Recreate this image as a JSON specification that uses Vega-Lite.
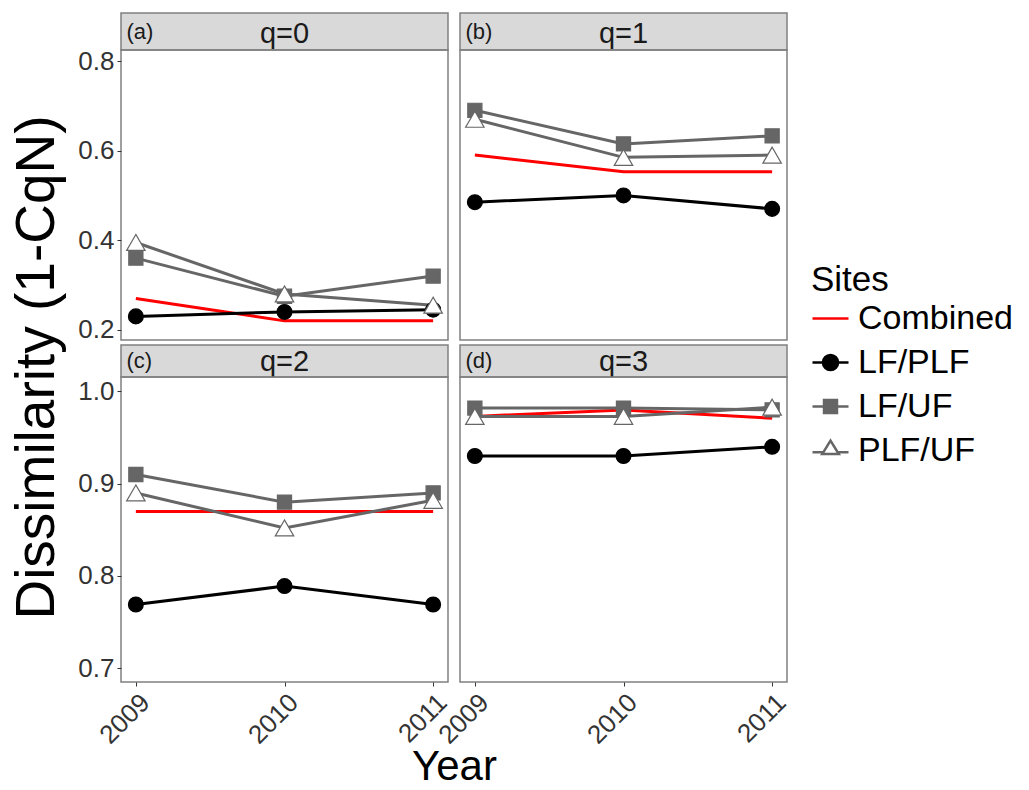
{
  "$schema": "https://vega.github.io/schema/vega-lite/v6.json",
  "padding": {"left": 9, "top": 12, "right": 5, "bottom": 5},
  "config": {
    "font": "Liberation Sans",
    "view": {"stroke": null},
    "axis": {"grid": false, "domain": false, "tickColor": "#333333", "tickSize": 4, "labelColor": "#333333", "labelFontSize": 26, "labelPadding": 3, "titleColor": "#000000", "titleFontWeight": "normal"}
  },
  "datasets": {
    "strips": [
      {"panel": "a", "q": "q=0", "tag": "(a)"},
      {"panel": "b", "q": "q=1", "tag": "(b)"},
      {"panel": "c", "q": "q=2", "tag": "(c)"},
      {"panel": "d", "q": "q=3", "tag": "(d)"}
    ],
    "d": [
      {"panel": "a", "site": "Combined", "year": 2009, "value": 0.27},
      {"panel": "a", "site": "Combined", "year": 2010, "value": 0.22},
      {"panel": "a", "site": "Combined", "year": 2011, "value": 0.22},
      {"panel": "a", "site": "LF/PLF", "year": 2009, "value": 0.23},
      {"panel": "a", "site": "LF/PLF", "year": 2010, "value": 0.24},
      {"panel": "a", "site": "LF/PLF", "year": 2011, "value": 0.245},
      {"panel": "a", "site": "LF/UF", "year": 2009, "value": 0.36},
      {"panel": "a", "site": "LF/UF", "year": 2010, "value": 0.275},
      {"panel": "a", "site": "LF/UF", "year": 2011, "value": 0.32},
      {"panel": "a", "site": "PLF/UF", "year": 2009, "value": 0.395},
      {"panel": "a", "site": "PLF/UF", "year": 2010, "value": 0.28},
      {"panel": "a", "site": "PLF/UF", "year": 2011, "value": 0.255},
      {"panel": "b", "site": "Combined", "year": 2009, "value": 0.59},
      {"panel": "b", "site": "Combined", "year": 2010, "value": 0.553},
      {"panel": "b", "site": "Combined", "year": 2011, "value": 0.553},
      {"panel": "b", "site": "LF/PLF", "year": 2009, "value": 0.485},
      {"panel": "b", "site": "LF/PLF", "year": 2010, "value": 0.5},
      {"panel": "b", "site": "LF/PLF", "year": 2011, "value": 0.47},
      {"panel": "b", "site": "LF/UF", "year": 2009, "value": 0.69},
      {"panel": "b", "site": "LF/UF", "year": 2010, "value": 0.615},
      {"panel": "b", "site": "LF/UF", "year": 2011, "value": 0.633},
      {"panel": "b", "site": "PLF/UF", "year": 2009, "value": 0.67},
      {"panel": "b", "site": "PLF/UF", "year": 2010, "value": 0.585},
      {"panel": "b", "site": "PLF/UF", "year": 2011, "value": 0.59},
      {"panel": "c", "site": "Combined", "year": 2009, "value": 0.87},
      {"panel": "c", "site": "Combined", "year": 2010, "value": 0.87},
      {"panel": "c", "site": "Combined", "year": 2011, "value": 0.87},
      {"panel": "c", "site": "LF/PLF", "year": 2009, "value": 0.769},
      {"panel": "c", "site": "LF/PLF", "year": 2010, "value": 0.789},
      {"panel": "c", "site": "LF/PLF", "year": 2011, "value": 0.769},
      {"panel": "c", "site": "LF/UF", "year": 2009, "value": 0.91},
      {"panel": "c", "site": "LF/UF", "year": 2010, "value": 0.88},
      {"panel": "c", "site": "LF/UF", "year": 2011, "value": 0.89},
      {"panel": "c", "site": "PLF/UF", "year": 2009, "value": 0.89},
      {"panel": "c", "site": "PLF/UF", "year": 2010, "value": 0.852},
      {"panel": "c", "site": "PLF/UF", "year": 2011, "value": 0.882},
      {"panel": "d", "site": "Combined", "year": 2009, "value": 0.973},
      {"panel": "d", "site": "Combined", "year": 2010, "value": 0.98},
      {"panel": "d", "site": "Combined", "year": 2011, "value": 0.971},
      {"panel": "d", "site": "LF/PLF", "year": 2009, "value": 0.93},
      {"panel": "d", "site": "LF/PLF", "year": 2010, "value": 0.93},
      {"panel": "d", "site": "LF/PLF", "year": 2011, "value": 0.94},
      {"panel": "d", "site": "LF/UF", "year": 2009, "value": 0.982},
      {"panel": "d", "site": "LF/UF", "year": 2010, "value": 0.982},
      {"panel": "d", "site": "LF/UF", "year": 2011, "value": 0.98},
      {"panel": "d", "site": "PLF/UF", "year": 2009, "value": 0.973},
      {"panel": "d", "site": "PLF/UF", "year": 2010, "value": 0.973},
      {"panel": "d", "site": "PLF/UF", "year": 2011, "value": 0.983}
    ]
  },
  "columns": 2,
  "bounds": "flush",
  "spacing": {"row": 0, "column": 12},
  "concat": [
    {
      "width": 327, "height": 37,
      "data": {"name": "strips"},
      "transform": [{"filter": "datum.panel == 'a'"}],
      "view": {"fill": "#d9d9d9", "stroke": "#808080", "strokeWidth": 1.5},
      "layer": [
        {"mark": {"type": "text", "fontSize": 29, "color": "#1a1a1a", "dy": 2}, "encoding": {"text": {"field": "q", "type": "nominal"}}},
        {"mark": {"type": "text", "fontSize": 22, "align": "left", "dx": -158, "color": "#1a1a1a"}, "encoding": {"text": {"field": "tag", "type": "nominal"}}}
      ]
    },
    {
      "width": 327, "height": 37,
      "data": {"name": "strips"},
      "transform": [{"filter": "datum.panel == 'b'"}],
      "view": {"fill": "#d9d9d9", "stroke": "#808080", "strokeWidth": 1.5},
      "layer": [
        {"mark": {"type": "text", "fontSize": 29, "color": "#1a1a1a", "dy": 2}, "encoding": {"text": {"field": "q", "type": "nominal"}}},
        {"mark": {"type": "text", "fontSize": 22, "align": "left", "dx": -158, "color": "#1a1a1a"}, "encoding": {"text": {"field": "tag", "type": "nominal"}}}
      ]
    },
    {
      "width": 327, "height": 290,
      "data": {"name": "d"},
      "transform": [{"filter": "datum.panel == 'a'"}],
      "view": {"stroke": "#808080", "strokeWidth": 1.5},
      "encoding": {
        "x": {"field": "year", "type": "quantitative", "scale": {"domain": [2008.9, 2011.1], "nice": false, "zero": false}, "axis": null},
        "y": {"field": "value", "type": "quantitative", "scale": {"domain": [0.1773, 0.8246], "nice": false, "zero": false},
              "axis": {"values": [0.2, 0.4, 0.6, 0.8], "format": ".1f", "title": "Dissimilarity (1-CqN)", "titleY": 317, "titleFontSize": 55, "titlePadding": 12}}
      },
      "layer": [
        {"mark": {"type": "line", "strokeWidth": 3},
         "encoding": {"color": {"field": "site", "type": "nominal",
           "scale": {"range": ["#ff0000", "#000000", "#666666", "#666666"]},
           "legend": null}}},
        {"transform": [{"filter": "datum.site == 'LF/PLF'"}],
         "mark": {"type": "point", "shape": "circle", "filled": true, "fill": "#000000", "stroke": "#000000", "opacity": 1, "size": 220, "strokeWidth": 1.2}},
        {"transform": [{"filter": "datum.site == 'LF/UF'"}],
         "mark": {"type": "point", "shape": "square", "filled": true, "fill": "#666666", "stroke": "#666666", "opacity": 1, "size": 200, "strokeWidth": 1.2}},
        {"transform": [{"filter": "datum.site == 'PLF/UF'"}],
         "mark": {"type": "point", "shape": "triangle-up", "filled": true, "fill": "#ffffff", "stroke": "#666666", "opacity": 1, "size": 340, "strokeWidth": 1.2}},
        {"transform": [{"filter": "false"}],
         "mark": {"type": "point", "filled": true, "opacity": 1},
         "encoding": {
           "fill": {"field": "site", "type": "nominal",
             "scale": {"domain": ["Combined", "LF/PLF", "LF/UF", "PLF/UF"], "range": ["transparent", "#000000", "#666666", "#ffffff"]},
             "legend": {"title": "Sites", "orient": "none", "legendX": 690, "legendY": 250, "symbolSize": 1296, "symbolStrokeWidth": 2.5, "symbolOpacity": 1, "labelFontSize": 34, "titleFontSize": 35, "titleFontWeight": "normal", "labelColor": "#000000", "titleColor": "#000000", "rowPadding": 7, "labelOffset": 8, "titlePadding": 1, "padding": 0}},
           "stroke": {"field": "site", "type": "nominal",
             "scale": {"domain": ["Combined", "LF/PLF", "LF/UF", "PLF/UF"], "range": ["#ff0000", "#000000", "#666666", "#666666"]},
             "legend": {"title": "Sites", "orient": "none", "legendX": 690, "legendY": 250, "symbolSize": 1296, "symbolStrokeWidth": 2.5, "symbolOpacity": 1, "labelFontSize": 34, "titleFontSize": 35, "titleFontWeight": "normal", "labelColor": "#000000", "titleColor": "#000000", "rowPadding": 7, "labelOffset": 8, "titlePadding": 1, "padding": 0}},
           "shape": {"field": "site", "type": "nominal",
             "scale": {"domain": ["Combined", "LF/PLF", "LF/UF", "PLF/UF"], "range": [
               "M-1,0H1",
               "M-1,0H1M-0.42,0A0.42,0.42,0,1,1,0.42,0A0.42,0.42,0,1,1,-0.42,0Z",
               "M-1,0H1M-0.36,-0.36H0.36V0.36H-0.36Z",
               "M-1,0.1H-0.4M0.4,0.1H1M-0.46,0.2L0,-0.55L0.46,0.2Z"]},
             "legend": {"title": "Sites", "orient": "none", "legendX": 690, "legendY": 250, "symbolSize": 1296, "symbolStrokeWidth": 2.5, "symbolOpacity": 1, "labelFontSize": 34, "titleFontSize": 35, "titleFontWeight": "normal", "labelColor": "#000000", "titleColor": "#000000", "rowPadding": 7, "labelOffset": 8, "titlePadding": 1, "padding": 0}}
         }}
      ]
    },
    {
      "width": 327, "height": 290,
      "data": {"name": "d"},
      "transform": [{"filter": "datum.panel == 'b'"}],
      "view": {"stroke": "#808080", "strokeWidth": 1.5},
      "encoding": {
        "x": {"field": "year", "type": "quantitative", "scale": {"domain": [2008.9, 2011.1], "nice": false, "zero": false}, "axis": null},
        "y": {"field": "value", "type": "quantitative", "scale": {"domain": [0.1773, 0.8246], "nice": false, "zero": false}, "axis": null}
      },
      "layer": [
        {"mark": {"type": "line", "strokeWidth": 3},
         "encoding": {"color": {"field": "site", "type": "nominal", "legend": null}}},
        {"transform": [{"filter": "datum.site == 'LF/PLF'"}],
         "mark": {"type": "point", "shape": "circle", "filled": true, "fill": "#000000", "stroke": "#000000", "opacity": 1, "size": 220, "strokeWidth": 1.2}},
        {"transform": [{"filter": "datum.site == 'LF/UF'"}],
         "mark": {"type": "point", "shape": "square", "filled": true, "fill": "#666666", "stroke": "#666666", "opacity": 1, "size": 200, "strokeWidth": 1.2}},
        {"transform": [{"filter": "datum.site == 'PLF/UF'"}],
         "mark": {"type": "point", "shape": "triangle-up", "filled": true, "fill": "#ffffff", "stroke": "#666666", "opacity": 1, "size": 340, "strokeWidth": 1.2}}
      ]
    },
    {
      "width": 327, "height": 5,
      "data": {"values": [{"k": 1}]},
      "mark": {"type": "text", "text": ""}
    },
    {
      "width": 327, "height": 5,
      "data": {"values": [{"k": 1}]},
      "mark": {"type": "text", "text": ""}
    },
    {
      "width": 327, "height": 32,
      "data": {"name": "strips"},
      "transform": [{"filter": "datum.panel == 'c'"}],
      "view": {"fill": "#d9d9d9", "stroke": "#808080", "strokeWidth": 1.5},
      "layer": [
        {"mark": {"type": "text", "fontSize": 29, "color": "#1a1a1a", "dy": 1}, "encoding": {"text": {"field": "q", "type": "nominal"}}},
        {"mark": {"type": "text", "fontSize": 22, "align": "left", "dx": -158, "color": "#1a1a1a"}, "encoding": {"text": {"field": "tag", "type": "nominal"}}}
      ]
    },
    {
      "width": 327, "height": 32,
      "data": {"name": "strips"},
      "transform": [{"filter": "datum.panel == 'd'"}],
      "view": {"fill": "#d9d9d9", "stroke": "#808080", "strokeWidth": 1.5},
      "layer": [
        {"mark": {"type": "text", "fontSize": 29, "color": "#1a1a1a", "dy": 1}, "encoding": {"text": {"field": "q", "type": "nominal"}}},
        {"mark": {"type": "text", "fontSize": 22, "align": "left", "dx": -158, "color": "#1a1a1a"}, "encoding": {"text": {"field": "tag", "type": "nominal"}}}
      ]
    },
    {
      "width": 327, "height": 305,
      "data": {"name": "d"},
      "transform": [{"filter": "datum.panel == 'c'"}],
      "view": {"stroke": "#808080", "strokeWidth": 1.5},
      "encoding": {
        "x": {"field": "year", "type": "quantitative", "scale": {"domain": [2008.9, 2011.1], "nice": false, "zero": false},
              "axis": {"values": [2009, 2010, 2011], "format": "d", "labelAngle": -45, "labelAlign": "right", "labelBaseline": "top", "title": "Year", "titleX": 333, "titleY": 64, "titleBaseline": "top", "titleFontSize": 42}},
        "y": {"field": "value", "type": "quantitative", "scale": {"domain": [0.685, 1.0157], "nice": false, "zero": false},
              "axis": {"values": [0.7, 0.8, 0.9, 1.0], "format": ".1f", "title": null}}
      },
      "layer": [
        {"mark": {"type": "line", "strokeWidth": 3},
         "encoding": {"color": {"field": "site", "type": "nominal", "legend": null}}},
        {"transform": [{"filter": "datum.site == 'LF/PLF'"}],
         "mark": {"type": "point", "shape": "circle", "filled": true, "fill": "#000000", "stroke": "#000000", "opacity": 1, "size": 220, "strokeWidth": 1.2}},
        {"transform": [{"filter": "datum.site == 'LF/UF'"}],
         "mark": {"type": "point", "shape": "square", "filled": true, "fill": "#666666", "stroke": "#666666", "opacity": 1, "size": 200, "strokeWidth": 1.2}},
        {"transform": [{"filter": "datum.site == 'PLF/UF'"}],
         "mark": {"type": "point", "shape": "triangle-up", "filled": true, "fill": "#ffffff", "stroke": "#666666", "opacity": 1, "size": 340, "strokeWidth": 1.2}}
      ]
    },
    {
      "width": 327, "height": 305,
      "data": {"name": "d"},
      "transform": [{"filter": "datum.panel == 'd'"}],
      "view": {"stroke": "#808080", "strokeWidth": 1.5},
      "encoding": {
        "x": {"field": "year", "type": "quantitative", "scale": {"domain": [2008.9, 2011.1], "nice": false, "zero": false},
              "axis": {"values": [2009, 2010, 2011], "format": "d", "labelAngle": -45, "labelAlign": "right", "labelBaseline": "top", "title": null}},
        "y": {"field": "value", "type": "quantitative", "scale": {"domain": [0.685, 1.0157], "nice": false, "zero": false}, "axis": null}
      },
      "layer": [
        {"mark": {"type": "line", "strokeWidth": 3},
         "encoding": {"color": {"field": "site", "type": "nominal", "legend": null}}},
        {"transform": [{"filter": "datum.site == 'LF/PLF'"}],
         "mark": {"type": "point", "shape": "circle", "filled": true, "fill": "#000000", "stroke": "#000000", "opacity": 1, "size": 220, "strokeWidth": 1.2}},
        {"transform": [{"filter": "datum.site == 'LF/UF'"}],
         "mark": {"type": "point", "shape": "square", "filled": true, "fill": "#666666", "stroke": "#666666", "opacity": 1, "size": 200, "strokeWidth": 1.2}},
        {"transform": [{"filter": "datum.site == 'PLF/UF'"}],
         "mark": {"type": "point", "shape": "triangle-up", "filled": true, "fill": "#ffffff", "stroke": "#666666", "opacity": 1, "size": 340, "strokeWidth": 1.2}}
      ]
    }
  ]
}
